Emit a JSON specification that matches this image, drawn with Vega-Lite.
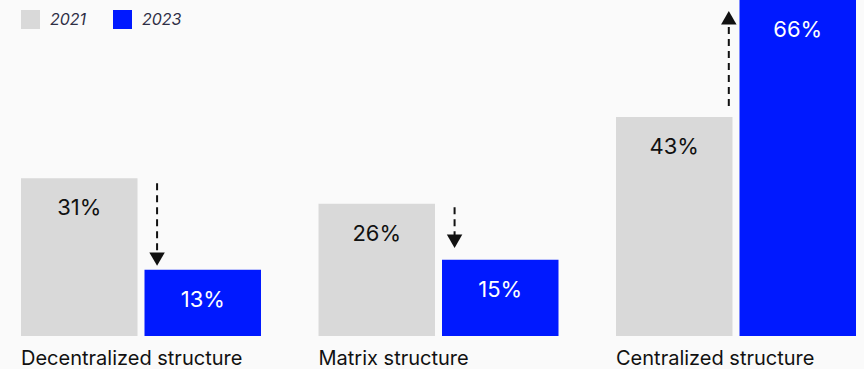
{
  "$schema": "https://vega.github.io/schema/vega-lite/v6.json",
  "width": 835,
  "height": 336,
  "autosize": {"type": "none"},
  "padding": {"left": 21, "top": 0, "right": 8, "bottom": 33},
  "background": "#fafafa",
  "config": {"view": {"stroke": null}, "font": "Inter"},
  "datasets": {
    "bars": [
      {"structure": "Decentralized structure", "year": "2021", "value": 31, "label": "31%"},
      {"structure": "Decentralized structure", "year": "2023", "value": 13, "label": "13%"},
      {"structure": "Matrix structure", "year": "2021", "value": 26, "label": "26%"},
      {"structure": "Matrix structure", "year": "2023", "value": 15, "label": "15%"},
      {"structure": "Centralized structure", "year": "2021", "value": 43, "label": "43%"},
      {"structure": "Centralized structure", "year": "2023", "value": 66, "label": "66%"}
    ],
    "arrows": [
      {"structure": "Decentralized structure", "from": 30, "to": 15.1, "dir": "down"},
      {"structure": "Matrix structure", "from": 25.3, "to": 18.6, "dir": "down"},
      {"structure": "Centralized structure", "from": 45.2, "to": 62.5, "dir": "up"}
    ]
  },
  "layer": [
    {
      "data": {"name": "bars"},
      "mark": {"type": "bar"},
      "encoding": {
        "x": {
          "field": "structure", "type": "nominal", "sort": null,
          "scale": {"paddingInner": 0.1933, "paddingOuter": 0},
          "axis": {
            "title": null, "domain": false, "ticks": false, "bandPosition": 0.5,
            "labelAlign": "left", "labelOffset": -120, "labelAngle": 0, "labelFontSize": 20, "labelFont": "Inter",
            "labelColor": "#111111", "labelPadding": 12, "labelOverlap": false, "labelBound": false, "labelLimit": 0
          }
        },
        "xOffset": {"field": "year", "type": "nominal", "scale": {"paddingInner": 0.0567, "paddingOuter": 0}},
        "y": {"field": "value", "type": "quantitative", "scale": {"domain": [0, 66], "nice": false}, "axis": null},
        "color": {
          "field": "year", "type": "nominal",
          "scale": {"domain": ["2021", "2023"], "range": ["#d9d9d9", "#0019ff"]},
          "legend": {
            "title": null, "orient": "none", "legendX": 0, "legendY": 10, "direction": "horizontal",
            "symbolType": "square", "symbolSize": 361, "symbolStrokeWidth": 0, "symbolOpacity": 1,
            "labelFont": "Inter", "labelFontStyle": "italic", "labelFontSize": 16, "labelColor": "#2e2e45",
            "labelOffset": 10, "columnPadding": 26, "padding": 0, "offset": 0,
            "encode": {"symbols": {"update": {"fill": {"signal": "datum.value === '2021' ? '#c0c0c0' : '#0019ff'"}}}}
          }
        }
      }
    },
    {
      "data": {"name": "bars"},
      "mark": {"type": "text", "fontSize": 22, "font": "Inter", "baseline": "alphabetic", "align": "center", "dy": 37},
      "encoding": {
        "x": {"field": "structure", "type": "nominal", "sort": null},
        "xOffset": {"field": "year", "type": "nominal"},
        "y": {"field": "value", "type": "quantitative"},
        "text": {"field": "label"},
        "color": {"condition": {"test": "datum.year === '2023'", "value": "#ffffff"}, "value": "#111111"}
      }
    },
    {
      "data": {"name": "arrows"},
      "transform": [{"filter": "datum.dir === 'down'"}],
      "mark": {"type": "rule", "strokeDash": [7, 5], "strokeWidth": 2, "color": "#111111"},
      "encoding": {
        "x": {"field": "structure", "type": "nominal", "sort": null, "bandPosition": 0.567},
        "y": {"field": "from", "type": "quantitative"},
        "y2": {"field": "to"}
      }
    },
    {
      "data": {"name": "arrows"},
      "transform": [{"filter": "datum.dir === 'up'"}],
      "mark": {"type": "rule", "strokeDash": [7, 5], "strokeWidth": 2, "color": "#111111"},
      "encoding": {
        "x": {"field": "structure", "type": "nominal", "sort": null, "bandPosition": 0.47},
        "y": {"field": "from", "type": "quantitative"},
        "y2": {"field": "to"}
      }
    },
    {
      "data": {"name": "arrows"},
      "transform": [{"filter": "datum.dir === 'down'"}],
      "mark": {"type": "point", "shape": "triangle-down", "filled": true, "size": 240, "color": "#111111", "opacity": 1},
      "encoding": {
        "x": {"field": "structure", "type": "nominal", "sort": null, "bandPosition": 0.567},
        "y": {"field": "to", "type": "quantitative"}
      }
    },
    {
      "data": {"name": "arrows"},
      "transform": [{"filter": "datum.dir === 'up'"}],
      "mark": {"type": "point", "shape": "triangle-up", "filled": true, "size": 240, "color": "#111111", "opacity": 1},
      "encoding": {
        "x": {"field": "structure", "type": "nominal", "sort": null, "bandPosition": 0.47},
        "y": {"field": "to", "type": "quantitative"}
      }
    }
  ]
}
